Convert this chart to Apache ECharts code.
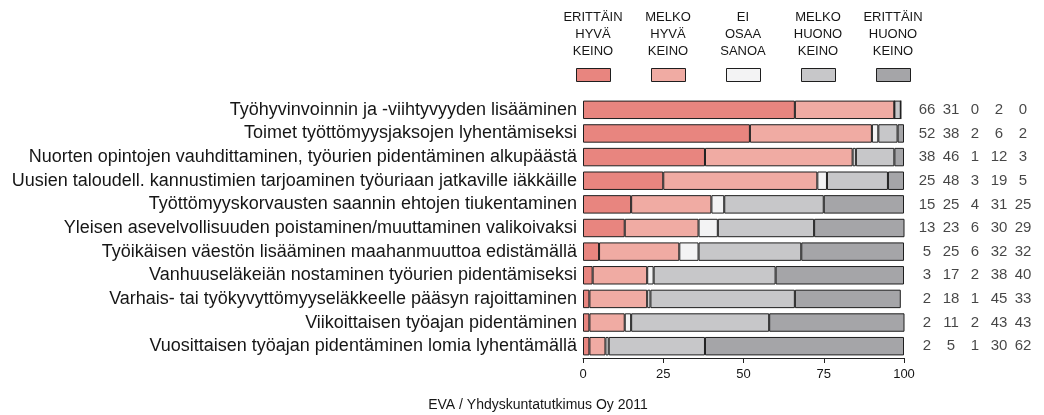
<!DOCTYPE html>
<html>
<head>
<meta charset="utf-8">
<script src="https://cdn.jsdelivr.net/npm/echarts@6/dist/echarts.min.js"></script>
<style>
  html, body { margin: 0; padding: 0; background: #ffffff; }
  #chart { width: 1044px; height: 415px; }
</style>
</head>
<body>
<div id="chart"></div>
<script>
// Survey items (top to bottom)
const categories = [
  'Työhyvinvoinnin ja -viihtyvyyden lisääminen',
  'Toimet työttömyysjaksojen lyhentämiseksi',
  'Nuorten opintojen vauhdittaminen, työurien pidentäminen alkupäästä',
  'Uusien taloudell. kannustimien tarjoaminen työuriaan jatkaville iäkkäille',
  'Työttömyyskorvausten saannin ehtojen tiukentaminen',
  'Yleisen asevelvollisuuden poistaminen/muuttaminen valikoivaksi',
  'Työikäisen väestön lisääminen maahanmuuttoa edistämällä',
  'Vanhuuseläkeiän nostaminen työurien pidentämiseksi',
  'Varhais- tai työkyvyttömyyseläkkeelle pääsyn rajoittaminen',
  'Viikoittaisen työajan pidentäminen',
  'Vuosittaisen työajan pidentäminen lomia lyhentämällä'
];

// Answer categories
const seriesNames = [
  'ERITTÄIN\nHYVÄ\nKEINO',
  'MELKO\nHYVÄ\nKEINO',
  'EI\nOSAA\nSANOA',
  'MELKO\nHUONO\nKEINO',
  'ERITTÄIN\nHUONO\nKEINO'
];

// Shares (%) per answer category
const erittainHyva  = [66, 52, 38, 25, 15, 13,  5,  3,  2,  2,  2];
const melkoHyva     = [31, 38, 46, 48, 25, 23, 25, 17, 18, 11,  5];
const eiOsaaSanoa   = [ 0,  2,  1,  3,  4,  6,  6,  2,  1,  2,  1];
const melkoHuono    = [ 2,  6, 12, 19, 31, 30, 32, 38, 45, 43, 30];
const erittainHuono = [ 0,  2,  3,  5, 25, 29, 32, 40, 33, 43, 62];

const xTicks = [0, 25, 50, 75, 100];

const colors = ['#E8857F', '#F0ABA3', '#F3F3F4', '#C7C7C9', '#A5A5A8'];
const FONT = '"Liberation Sans", Arial, sans-serif';
const INK = '#161616';

const valueSets = [erittainHyva, melkoHyva, eiOsaaSanoa, melkoHuono, erittainHuono];

const barSeries = valueSets.map((vals, i) => ({
  name: seriesNames[i],
  type: 'bar',
  stack: 'total',
  xAxisIndex: 0,
  yAxisIndex: 0,
  barCategoryGap: '22%',
  itemStyle: { color: colors[i], borderColor: '#1e1e1e', borderWidth: 1 },
  emphasis: { disabled: true },
  data: vals
}));

// Numeric table to the right of the bars
const tableData = [];
valueSets.forEach((vals, col) => {
  vals.forEach((v, row) => tableData.push([col, row, v]));
});

const tableSeries = {
  type: 'scatter',
  xAxisIndex: 1,
  yAxisIndex: 1,
  symbolSize: 0,
  silent: true,
  label: {
    show: true,
    position: 'inside',
    formatter: p => String(p.value[2]),
    fontFamily: FONT,
    fontSize: 15,
    color: INK
  },
  data: tableData
};

// Legend captions above the swatches
const legendX = [593, 668, 743, 818, 893];
const legendTexts = seriesNames.map((t, i) => ({
  type: 'text',
  x: legendX[i],
  y: 9,
  silent: true,
  style: {
    text: t,
    textAlign: 'center',
    textVerticalAlign: 'top',
    fontFamily: FONT,
    fontSize: 13,
    lineHeight: 17,
    fill: INK
  }
}));

const chart = echarts.init(document.getElementById('chart'), null, { renderer: 'canvas' });

chart.setOption({
  animation: false,
  backgroundColor: '#ffffff',
  textStyle: { fontFamily: FONT },
  legend: {
    data: seriesNames,
    left: 576,
    top: 68,
    padding: 0,
    icon: 'rect',
    itemWidth: 34,
    itemHeight: 13,
    itemGap: 40,
    selectedMode: false,
    formatter: () => '',
    itemStyle: { borderColor: '#1e1e1e', borderWidth: 1 }
  },
  grid: [
    { left: 583, top: 98, width: 321, height: 260 },
    { left: 915, top: 98, width: 120, height: 260 }
  ],
  xAxis: [
    {
      type: 'value',
      gridIndex: 0,
      min: xTicks[0],
      max: xTicks[xTicks.length - 1],
      interval: 25,
      axisLine: { show: true, lineStyle: { color: '#222', width: 1 } },
      axisTick: { show: true, length: 5, lineStyle: { color: '#222' } },
      axisLabel: { fontFamily: FONT, fontSize: 13, color: INK, margin: 10 },
      splitLine: { show: false }
    },
    {
      type: 'category',
      gridIndex: 1,
      data: [0, 1, 2, 3, 4],
      show: false
    }
  ],
  yAxis: [
    {
      type: 'category',
      gridIndex: 0,
      inverse: true,
      data: categories,
      axisLine: { show: false },
      axisTick: { show: false },
      axisLabel: { fontFamily: FONT, fontSize: 18, color: INK, margin: 6 }
    },
    {
      type: 'category',
      gridIndex: 1,
      inverse: true,
      data: categories,
      show: false
    }
  ],
  graphic: legendTexts.concat([{
    type: 'text',
    x: 538,
    y: 405,
    silent: true,
    style: {
      text: 'EVA / Yhdyskuntatutkimus Oy 2011',
      textAlign: 'center',
      textVerticalAlign: 'middle',
      fontFamily: FONT,
      fontSize: 14,
      fill: INK
    }
  }]),
  series: barSeries.concat([tableSeries])
});
</script>
</body>
</html>
